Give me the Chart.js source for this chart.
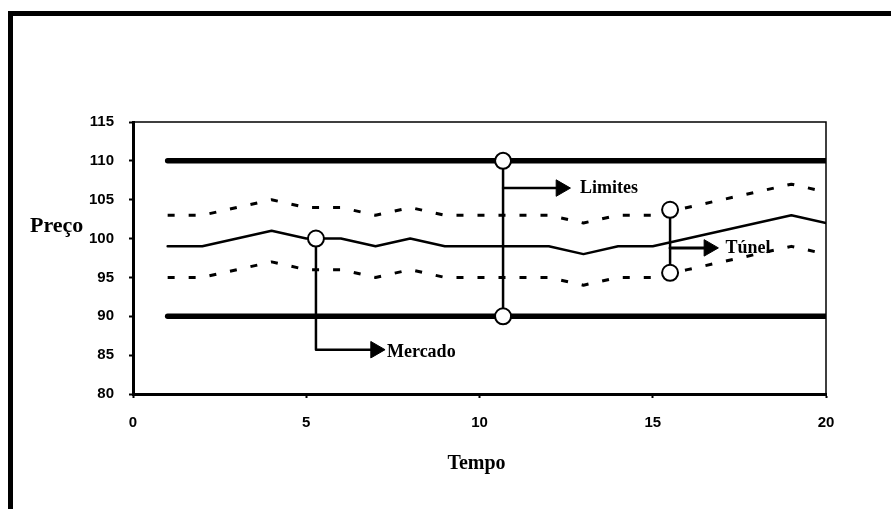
<!DOCTYPE html>
<html>
<head>
<meta charset="utf-8">
<script src="https://cdn.jsdelivr.net/npm/chart.js@4/dist/chart.umd.min.js"></script>
<style>
  html, body { margin: 0; padding: 0; background: #fff; }
  #wrap { position: relative; width: 891px; height: 509px; overflow: hidden; }
  #frame { position: absolute; left: 8px; top: 11px; width: 900px; height: 520px;
           border-left: 5px solid #000; border-top: 5px solid #000; }
  canvas { position: absolute; left: 0; top: 0; }
</style>
</head>
<body>
<div id="wrap">
  <div id="frame"></div>
  <canvas id="chart" width="891" height="509"></canvas>
</div>
<script>
// dados
const tempo = [1, 2, 3, 4, 5, 6, 7, 8, 9, 10, 11, 12, 13, 14, 15, 16, 17, 18, 19, 20];
const mercado = [99, 99, 100, 101, 100, 100, 99, 100, 99, 99, 99, 99, 98, 99, 99, 100, 101, 102, 103, 102];
const tunelSuperior = [103, 103, 104, 105, 104, 104, 103, 104, 103, 103, 103, 103, 102, 103, 103, 104, 105, 106, 107, 106];
const tunelInferior = [95, 95, 96, 97, 96, 96, 95, 96, 95, 95, 95, 95, 94, 95, 95, 96, 97, 98, 99, 98];
const limiteSuperior = [110, 110, 110, 110, 110, 110, 110, 110, 110, 110, 110, 110, 110, 110, 110, 110, 110, 110, 110, 110];
const limiteInferior = [90, 90, 90, 90, 90, 90, 90, 90, 90, 90, 90, 90, 90, 90, 90, 90, 90, 90, 90, 90];

// anotações (coordenadas do gráfico)
const circulos = [[5.28, 100], [10.68, 110], [10.68, 90], [15.5, 103.7], [15.5, 95.6]];
const setaMercado = [[5.28, 100], [5.28, 85.7], [7.0, 85.7]];
const setaLimites = [[10.68, 110], [10.68, 90]];
const ramoLimites = [[10.68, 106.5], [12.35, 106.5]];
const setaTunel = [[15.5, 103.7], [15.5, 95.6]];
const ramoTunel = [[15.5, 98.8], [16.62, 98.8]];
const pontasSeta = [[7.0, 85.7], [12.35, 106.5], [16.62, 98.8]];
const rotulos = [["Mercado", 7.33, 85.4], ["Limites", 12.9, 106.5], ["Túnel", 17.1, 98.8]];

// eixos
const ticksX = [0, 5, 10, 15, 20];
const ticksY = [80, 85, 90, 95, 100, 105, 110, 115];
const tituloX = "Tempo";
const tituloY = "Preço";

const pts = (xs, ys) => xs.map((x, i) => ({ x: x, y: ys[i] }));
const par = arr => arr.map(p => ({ x: p[0], y: p[1] }));

function linha(data, width, dash) {
  return { data: data, showLine: true, borderColor: "#000", borderWidth: width,
           borderDash: dash || [], pointRadius: 0, tension: 0, fill: false,
           borderCapStyle: dash ? "butt" : "round", borderJoinStyle: "round" };
}

const textos = {
  id: "textos",
  afterDraw(chart) {
    const ctx = chart.ctx;
    const sx = chart.scales.x, sy = chart.scales.y;
    const a = chart.chartArea;
    ctx.save();
    // moldura fina do gráfico (topo e direita)
    ctx.strokeStyle = "#000";
    ctx.lineWidth = 1.5;
    ctx.beginPath();
    ctx.moveTo(a.left, a.top);
    ctx.lineTo(a.right, a.top);
    ctx.lineTo(a.right, a.bottom);
    ctx.stroke();

    ctx.fillStyle = "#000";
    ctx.textBaseline = "middle";
    ctx.textAlign = "left";
    ctx.font = 'bold 18px "Liberation Serif", "Times New Roman", serif';
    rotulos.forEach(r => {
      ctx.fillText(r[0], sx.getPixelForValue(r[1]), sy.getPixelForValue(r[2]));
    });
    ctx.textBaseline = "alphabetic";
    ctx.font = 'bold 22px "Liberation Serif", "Times New Roman", serif';
    ctx.fillText(tituloY, 30, 232);
    ctx.font = 'bold 20px "Liberation Serif", "Times New Roman", serif';
    ctx.textAlign = "center";
    ctx.fillText(tituloX, (a.left + a.right) / 2 - 3, 469);
    ctx.restore();
  }
};

new Chart(document.getElementById("chart"), {
  type: "scatter",
  data: {
    datasets: [
      { data: par(circulos), pointStyle: "circle", pointRadius: 8, pointBorderWidth: 2,
        pointBackgroundColor: "#fff", pointBorderColor: "#000", showLine: false },
      { data: par(pontasSeta), pointStyle: "triangle", rotation: 90, pointRadius: 9.5,
        pointBorderWidth: 1, pointBackgroundColor: "#000", pointBorderColor: "#000", showLine: false },
      linha(par(setaMercado), 2.5),
      linha(par(setaLimites), 2.5),
      linha(par(ramoLimites), 2.5),
      linha(par(setaTunel), 2.5),
      linha(par(ramoTunel), 3),
      linha(pts(tempo, mercado), 2.5),
      linha(pts(tempo, tunelSuperior), 3, [7, 14]),
      linha(pts(tempo, tunelInferior), 3, [7, 14]),
      linha(pts(tempo, limiteSuperior), 5.5),
      linha(pts(tempo, limiteInferior), 5.5)
    ]
  },
  options: {
    responsive: false,
    animation: false,
    layout: { padding: { left: 0, top: 122, right: 65, bottom: 0 } },
    plugins: { legend: { display: false }, tooltip: { enabled: false } },
    scales: {
      x: {
        type: "linear", min: 0, max: 20,
        afterFit(s) { s.height = 115; },
        afterBuildTicks(s) { s.ticks = ticksX.map(v => ({ value: v })); },
        grid: { display: true, drawOnChartArea: false, drawTicks: true, tickLength: 4,
                tickWidth: 2, tickColor: "#000" },
        border: { display: true, color: "#000", width: 3 },
        ticks: { color: "#000", padding: 16, maxRotation: 0,
                 font: { family: '"Liberation Sans", Arial, sans-serif', size: 15, weight: "bold" } }
      },
      y: {
        type: "linear", min: 80, max: 115,
        afterFit(s) { s.width = 133; },
        afterBuildTicks(s) { s.ticks = ticksY.map(v => ({ value: v })); },
        grid: { display: true, drawOnChartArea: false, drawTicks: true, tickLength: 4,
                tickWidth: 2, tickColor: "#000" },
        border: { display: true, color: "#000", width: 3 },
        ticks: { color: "#000", padding: 15,
                 font: { family: '"Liberation Sans", Arial, sans-serif', size: 15, weight: "bold" } }
      }
    }
  },
  plugins: [textos]
});
</script>
</body>
</html>
